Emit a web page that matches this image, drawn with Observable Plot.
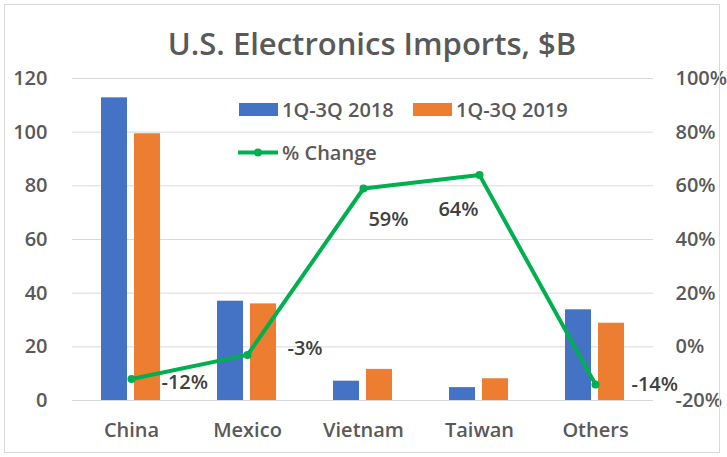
<!DOCTYPE html>
<html>
<head>
<meta charset="utf-8">
<script src="https://cdn.jsdelivr.net/npm/d3@7"></script>
<script src="https://cdn.jsdelivr.net/npm/@observablehq/plot@0.6"></script>
<style>
  html, body { margin: 0; padding: 0; background: #fff; }
  #wrap { position: relative; width: 727px; height: 457px; font-family: "Open Sans", sans-serif; color: #595959; }
  #frame { position: absolute; left: 4px; top: 4px; width: 716px; height: 449px; border: 1px solid #d9d9d9; box-sizing: border-box; pointer-events: none; }
  #title { position: absolute; left: 0; width: 744px; top: 22px; text-align: center; font-size: 31px; line-height: 42px; font-weight: 600; color: #595959; }
  #chart { position: absolute; left: 0; top: 0; }
  .leg { position: absolute; font-size: 20px; line-height: 27px; font-weight: 600; color: #595959; display: flex; align-items: center; white-space: nowrap; }
  .sw { display: inline-block; width: 39px; height: 13px; margin-right: 4px; }
</style>
</head>
<body>
<div id="wrap">
  <div id="chart"></div>
  <div id="title">U.S. Electronics Imports, $B</div>
  <div class="leg" style="left:239px; top:96px;"><span class="sw" style="background:#4472c4"></span>1Q-3Q 2018</div>
  <div class="leg" style="left:413px; top:96px;"><span class="sw" style="background:#ed7d31"></span>1Q-3Q 2019</div>
  <div class="leg" style="left:238px; top:139px;"><svg width="40" height="13" style="margin-right:4px"><line x1="0" y1="6.5" x2="40" y2="6.5" stroke="#00b050" stroke-width="4"/><circle cx="20" cy="6.5" r="4" fill="#00b050"/></svg>% Change</div>
  <div id="frame"></div>
</div>
<script>
const countries = ["China", "Mexico", "Vietnam", "Taiwan", "Others"];
const imports2018 = [112.8, 37.0, 7.2, 4.8, 33.8];
const imports2019 = [99.4, 36.0, 11.6, 8.1, 28.8];
const pctChange = [-12, -3, 59, 64, -14];
const leftTicks = [0, 20, 40, 60, 80, 100, 120];
const rightTickLabels = ["-20%", "0%", "20%", "40%", "60%", "80%", "100%"];

const rows2018 = countries.map((c, i) => ({country: c, value: imports2018[i]}));
const rows2019 = countries.map((c, i) => ({country: c, value: imports2019[i]}));
// map % change onto the left scale: -20% -> 0, 100% -> 120
const pctRows = countries.map((c, i) => ({country: c, pct: pctChange[i], y: pctChange[i] + 20}));

const labelOffsets = [
  {dx: 30, dy: 4, anchor: "start"},
  {dx: 40, dy: -6, anchor: "start"},
  {dx: 25, dy: 31, anchor: "middle"},
  {dx: -21, dy: 34, anchor: "middle"},
  {dx: 36, dy: 0, anchor: "start"}
];

const txt = {fontSize: 20, fontWeight: 600, fill: "#404040", fontFamily: "Open Sans, sans-serif"};

const chart = Plot.plot({
  width: 727,
  height: 457,
  marginLeft: 72,
  marginRight: 74,
  marginTop: 78,
  marginBottom: 57,
  style: {fontFamily: "Open Sans, sans-serif", fontSize: "20px", fontWeight: 600, color: "#595959", background: "transparent"},
  x: {type: "band", domain: countries, padding: 0, label: null},
  y: {domain: [0, 120], label: null},
  marks: [
    Plot.ruleY(leftTicks, {stroke: "#d9d9d9", strokeWidth: 1}),
    Plot.axisY({ticks: leftTicks, tickSize: 0, tickPadding: 25, label: null, fontSize: 20, fontWeight: 600}),
    Plot.axisY({anchor: "right", ticks: leftTicks, tickSize: 0, tickPadding: 22, label: null, fontSize: 20, fontWeight: 600,
      tickFormat: (d) => rightTickLabels[leftTicks.indexOf(d)]}),
    Plot.axisX({tickSize: 0, tickPadding: 22, label: null, fontSize: 20, fontWeight: 600}),
    Plot.barY(rows2018, {x: "country", y: "value", fill: "#4472c4", insetLeft: 28, insetRight: 62}),
    Plot.barY(rows2019, {x: "country", y: "value", fill: "#ed7d31", insetLeft: 61, insetRight: 29}),
    Plot.line(pctRows, {x: "country", y: "y", stroke: "#00b050", strokeWidth: 4}),
    Plot.dot(pctRows, {x: "country", y: "y", fill: "#00b050", r: 4}),
    ...pctRows.map((r, i) => Plot.text([r], {x: "country", y: "y", text: (d) => d.pct + "%",
      dx: labelOffsets[i].dx, dy: labelOffsets[i].dy, textAnchor: labelOffsets[i].anchor, ...txt}))
  ]
});
document.getElementById("chart").appendChild(chart);
</script>
</body>
</html>
